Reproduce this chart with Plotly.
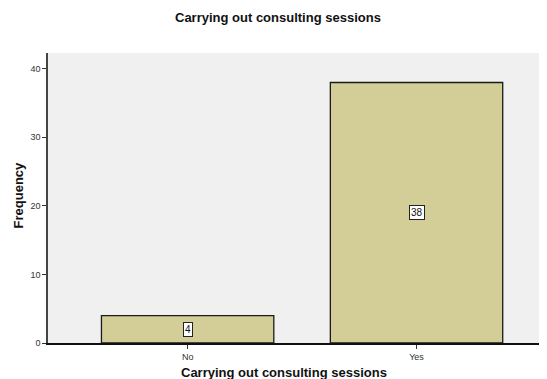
import plotly.graph_objects as go

# categorie e frequenze
categories = ["No", "Yes"]
counts = [4, 38]
y_ticks = [0, 10, 20, 30, 40]

title_text = "Carrying out consulting sessions"
y_title = "Frequency"

fig = go.Figure()

fig.add_trace(go.Bar(
    x=categories, y=counts,
    marker=dict(color="#D3CE98", line=dict(color="#1a1a1a", width=1.3)),
    width=0.753, hoverinfo="skip",
))

# etichette dei valori al centro delle barre
for c, v in zip(categories, counts):
    fig.add_annotation(x=c, y=v / 2, text=str(v), showarrow=False,
                       font=dict(family="Arial", size=10, color="#111"),
                       bgcolor="white", bordercolor="#222", borderwidth=1, borderpad=1)

bold = dict(family="Arial", size=13, color="#111")

# titolo, titoli degli assi come annotazioni (posizioni fisse)
fig.add_annotation(xref="paper", yref="paper", x=0.461, y=1.124,
                   xanchor="center", yanchor="middle", showarrow=False,
                   text="<b>" + title_text + "</b>", font=bold)
fig.add_annotation(xref="paper", yref="paper", x=0.473, y=-0.069,
                   xanchor="center", yanchor="top", showarrow=False,
                   text="<b>" + title_text + "</b>", font=bold)
fig.add_annotation(xref="paper", yref="paper", x=-0.060, y=0.509,
                   xanchor="center", yanchor="middle", showarrow=False,
                   textangle=-90, text="<b>" + y_title + "</b>", font=bold)

# la pagina ha 8px di margine nel body: margini compensati
fig.update_layout(
    width=547, height=379,
    margin=dict(l=40, r=8, t=45, b=44),
    paper_bgcolor="white", plot_bgcolor="#F0F0F0",
    showlegend=False,
    font=dict(family="Arial", size=9, color="#333"),
)

fig.update_xaxes(
    range=[-0.61, 1.57], showgrid=False, automargin=False,
    showline=True, linecolor="#111", linewidth=1.5,
    ticks="outside", ticklen=4, tickcolor="#333",
    tickfont=dict(family="Arial", size=9, color="#333"),
)

fig.update_yaxes(
    range=[0, 42.3], showgrid=False, zeroline=False, automargin=False,
    showline=True, linecolor="#444", linewidth=1.5, mirror=True,
    tickvals=y_ticks, ticks="outside", ticklen=4, tickcolor="#333",
    tickfont=dict(family="Arial", size=9, color="#333"),
)

fig.write_html("out.html")
